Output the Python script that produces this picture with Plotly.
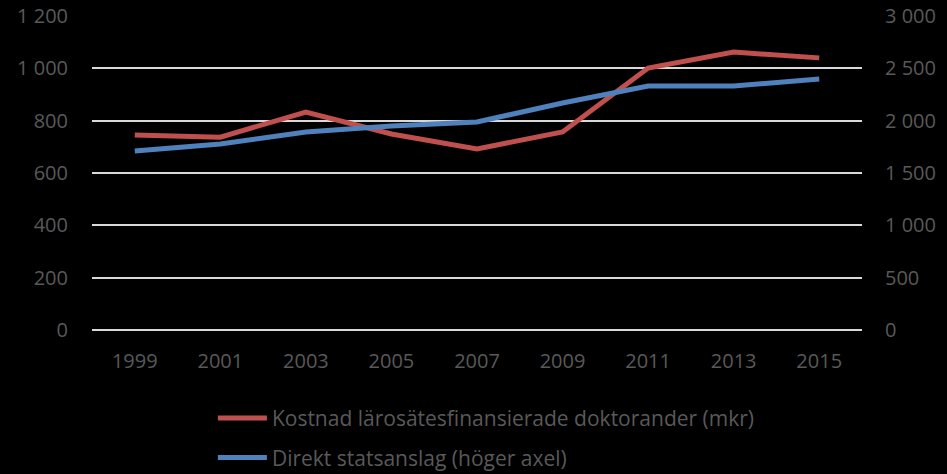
import plotly.graph_objects as go

years = ["1999", "2001", "2003", "2005", "2007", "2009", "2011", "2013", "2015"]
kostnad = [745, 737, 833, 749, 692, 757, 1001, 1062, 1040]
statsanslag = [1710, 1777, 1892, 1949, 1987, 2169, 2331, 2331, 2398]

name_red = "Kostnad lärosätesfinansierade doktorander (mkr)"
name_blue = "Direkt statsanslag (höger axel)"

font_family = "Open Sans, Lato, sans-serif"
gray = "#595959"
tick_size = 20

fig = go.Figure()
fig.add_trace(go.Scatter(x=years, y=kostnad, name=name_red, mode="lines",
                         line=dict(color="#c0504d", width=5), legendgroup="a"))
fig.add_trace(go.Scatter(x=years, y=statsanslag, name=name_blue, mode="lines",
                         line=dict(color="#4f81bd", width=5), yaxis="y2", legendgroup="b"))

fig.update_layout(
    width=947, height=474,
    paper_bgcolor="black", plot_bgcolor="black",
    margin=dict(l=92, r=85, t=16, b=144, autoexpand=False),
    separators=", ",
    font=dict(family=font_family, size=tick_size, color=gray),
    xaxis=dict(type="category", range=[-0.5, 8.5], showgrid=False, zeroline=False,
               showline=False, ticks="", tickfont=dict(size=tick_size, color=gray),
               ticklabelstandoff=17),
    yaxis=dict(range=[0, 1200], dtick=200, tickformat=",d", showgrid=True,
               gridcolor="#d9d9d9", gridwidth=2, zeroline=True, zerolinecolor="#d9d9d9",
               zerolinewidth=2, showline=False, ticks="",
               tickfont=dict(size=tick_size, color=gray), ticklabelstandoff=23),
    yaxis2=dict(range=[0, 3000], dtick=500, tickformat=",d", overlaying="y", side="right",
                showgrid=False, zeroline=False, showline=False, ticks="",
                tickfont=dict(size=tick_size, color=gray), ticklabelstandoff=22),
    legend=dict(orientation="v", x=0.157, xanchor="left", y=-0.2164, yanchor="top",
                itemwidth=49, font=dict(size=21, color=gray), tracegroupgap=9,
                bgcolor="rgba(0,0,0,0)"),
    showlegend=True,
)

fig.write_html("out.html", config={"displayModeBar": False})

with open("out.html", "r", encoding="utf-8") as f:
    html = f.read()
html = html.replace("<head>", "<head><style>html,body{margin:0;padding:0;overflow:hidden;background:#000;}</style>", 1)
with open("out.html", "w", encoding="utf-8") as f:
    f.write(html)
